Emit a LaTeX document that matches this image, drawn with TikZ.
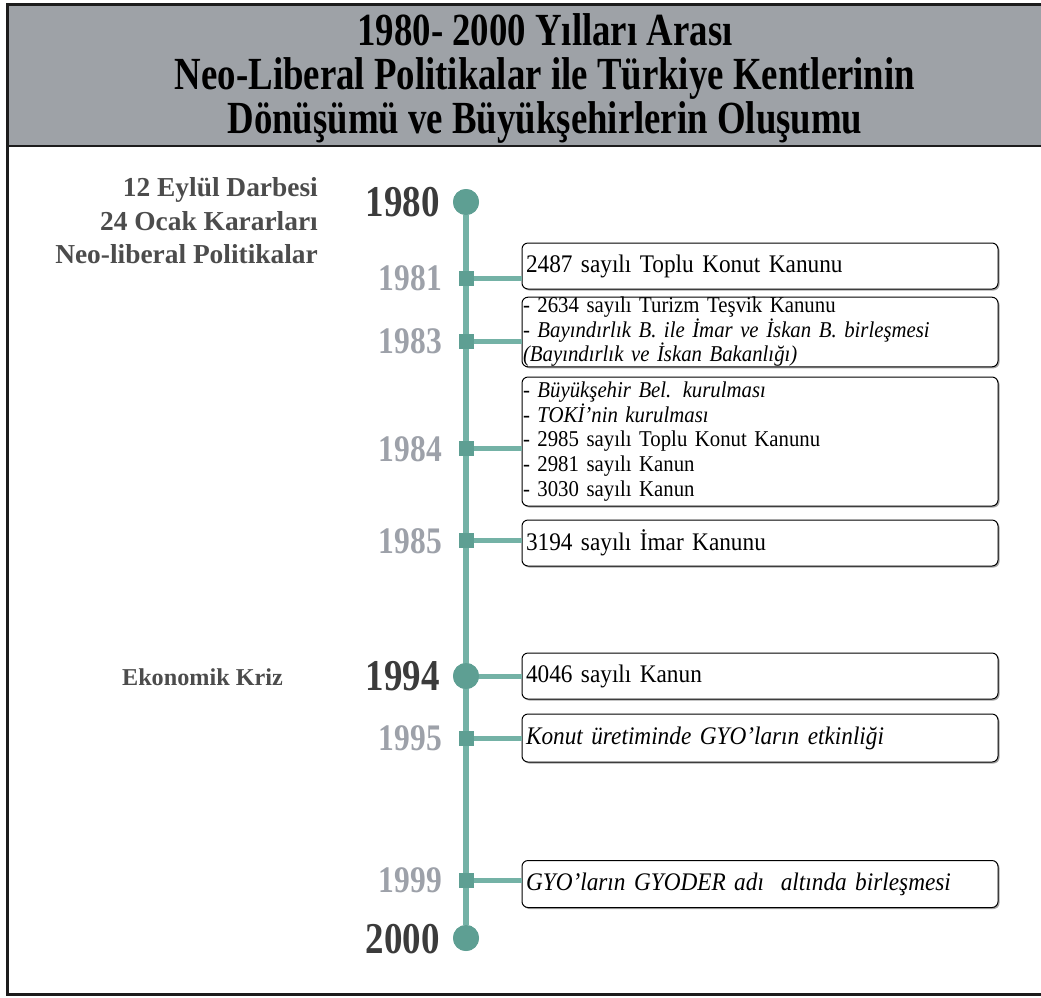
\documentclass[tikz,border=0pt]{standalone}
\usepackage{fontspec}
\setmainfont{Liberation Serif}
\newfontfamily\titleserif[FakeStretch=0.8]{Liberation Serif}
\newfontfamily\yearserif[FakeStretch=0.84]{Liberation Serif}
\newfontfamily\boxserif[FakeStretch=0.92]{Liberation Serif}
\usetikzlibrary{shadows}

\definecolor{headgray}{HTML}{9EA2A7}
\definecolor{framedark}{HTML}{1C1C1C}
\definecolor{tealline}{HTML}{74B2A6}
\definecolor{tealdot}{HTML}{5E9F93}
\definecolor{yeardark}{HTML}{3B3B3B}
\definecolor{yeargray}{HTML}{9DA1A9}
\definecolor{labelgray}{HTML}{4C4C4C}

\tikzset{
  titleline/.style={anchor=base, inner sep=0pt, text=black,
    font=\titleserif\bfseries\fontsize{46}{48}\selectfont},
  sidelabel/.style={anchor=base east, inner sep=0pt, text=labelgray,
    font=\bfseries\fontsize{27.4}{30}\selectfont},
  yearmajor/.style={anchor=east, inner sep=0pt, text=yeardark,
    font=\yearserif\bfseries\fontsize{44}{46}\selectfont},
  yearminor/.style={anchor=east, inner sep=0pt, text=yeargray,
    font=\yearserif\bfseries\fontsize{37.5}{40}\selectfont},
  bigdot/.style={circle, fill=tealdot, minimum size=26pt, inner sep=0pt},
  tick/.style={rectangle, fill=tealdot, minimum size=15pt, inner sep=0pt},
  spine/.style={draw=tealline, line width=6pt},
  branch/.style={draw=tealline, line width=5pt},
  eventbox/.style={draw=black, line width=1pt, rounded corners=6pt, fill=white,
    minimum width=476pt, text width=468pt, align=left, inner xsep=4pt, inner ysep=0pt,
    drop shadow={shadow xshift=1.5pt, shadow yshift=-1.5pt, opacity=0.35, fill=black},
    font=\boxserif\fontsize{25.3}{28}\selectfont},
  eventlist/.style={eventbox, inner xsep=1pt, text width=474pt,
    font=\boxserif\fontsize{22.6}{20.5}\selectfont},
}

\begin{document}
\begin{tikzpicture}[x=1pt, y=-1pt]
\useasboundingbox (0,0) rectangle (1041,997);

% frame and title band
\fill[headgray] (7,4) rectangle (1048,146);
\draw[framedark, line width=3pt] (7,4) rectangle (1048,994);
\draw[framedark, line width=2.5pt] (7,146) -- (1048,146);

\node[titleline] (title1) at (545,45) {1980- 2000 Yılları Arası};
\node[titleline] (title2) at (545,89) {Neo-Liberal Politikalar ile Türkiye Kentlerinin};
\node[titleline] (title3) at (545,133) {Dönüşümü ve Büyükşehirlerin Oluşumu};

% side notes
\node[sidelabel] (note1) at (318,196) {12 Eylül Darbesi};
\node[sidelabel] (note2) at (318,230) {24 Ocak Kararları};
\node[sidelabel] (note3) at (318,263) {Neo-liberal Politikalar};
\node[sidelabel, font=\bfseries\fontsize{24.2}{28}\selectfont] (note4) at (283,685) {Ekonomik Kriz};

% markers on the time axis
\node[bigdot] (c1980) at (466,202) {};
\node[bigdot] (c1994) at (466,676) {};
\node[bigdot] (c2000) at (466,938) {};
\node[tick] (s1981) at (466,278) {};
\node[tick] (s1983) at (466,341) {};
\node[tick] (s1984) at (466,448) {};
\node[tick] (s1985) at (466,540) {};
\node[tick] (s1995) at (466,738) {};
\node[tick] (s1999) at (466,880) {};

% year labels
\node[yearmajor] (y1980) at (440,202) {1980};
\node[yearminor] (y1981) at (442,278) {1981};
\node[yearminor] (y1983) at (442,341) {1983};
\node[yearminor] (y1984) at (442,449) {1984};
\node[yearminor] (y1985) at (442,541) {1985};
\node[yearmajor] (y1994) at (440,676) {1994};
\node[yearminor] (y1995) at (442,738) {1995};
\node[yearminor] (y1999) at (442,880) {1999};
\node[yearmajor] (y2000) at (440,939) {2000};

% event boxes
\node[eventbox, minimum height=46pt] (b1981) at (760,266) {2487 sayılı Toplu Konut Kanunu};
\node[eventlist, minimum height=68pt] (b1983) at (760,332) {%
  - 2634 sayılı Turizm Teşvik Kanunu\\
  {\itshape - Bayındırlık B. ile İmar ve İskan B. birleşmesi}\\
  {\itshape (Bayındırlık ve İskan Bakanlığı)}};
\node[eventlist, minimum height=129pt, font=\boxserif\fontsize{22.6}{24.8}\selectfont] (b1984) at (760,441.5) {%
  {\itshape - Büyükşehir Bel. kurulması}\\
  {\itshape - TOKİ’nin kurulması}\\
  - 2985 sayılı Toplu Konut Kanunu\\
  - 2981 sayılı Kanun\\
  - 3030 sayılı Kanun};
\node[eventbox, minimum height=46pt] (b1985) at (760,543) {3194 sayılı İmar Kanunu};
\node[eventbox, minimum height=46pt] (b1994) at (760,676) {4046 sayılı Kanun};
\node[eventbox, minimum height=48pt] (b1995) at (760,738) {\itshape Konut üretiminde GYO’ların etkinliği};
\node[eventbox, minimum height=47pt] (b1999) at (760,884) {\itshape GYO’ların GYODER adı\ \ altında birleşmesi};

% axis and branches
\path[spine] (c1980) -- (c2000);
\foreach \m/\b in {s1981/b1981, s1983/b1983, s1984/b1984, s1985/b1985,
                   c1994/b1994, s1995/b1995, s1999/b1999}
  \path[branch] (\m.center) -- (\m.center -| \b.west);
% markers drawn again on top of the lines
\node[bigdot] at (c1980) {};
\node[bigdot] at (c1994) {};
\node[bigdot] at (c2000) {};
\foreach \s in {s1981,s1983,s1984,s1985,s1995,s1999}
  \node[tick] at (\s) {};
\end{tikzpicture}
\end{document}
